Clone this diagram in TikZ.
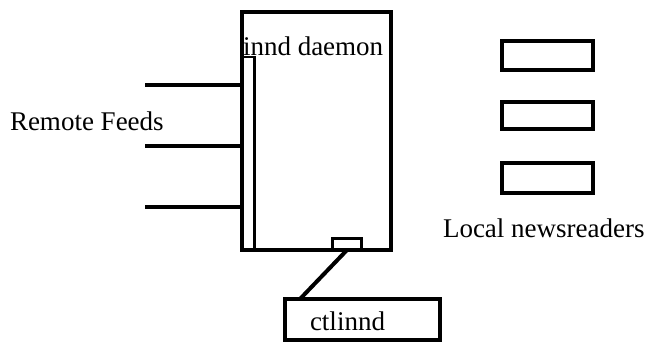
\documentclass[tikz,border=0pt]{standalone}
\usepackage{fontspec}
\setmainfont{Liberation Serif}
\begin{document}
\begin{tikzpicture}[x=1pt,y=-1pt,
  box/.style={draw,line width=4pt,rectangle,inner sep=0pt,outer sep=0pt},
  thinbox/.style={draw,line width=2.8pt,rectangle,inner sep=0pt,outer sep=0pt},
  lbl/.style={inner sep=0pt,outer sep=0pt,anchor=base west,font=\fontsize{27}{30}\selectfont},
  wire/.style={line width=4pt}]
\useasboundingbox (0,0) rectangle (651,346);
% main daemon box
\node[box,minimum width=149pt,minimum height=238pt] (main) at (316.5,131) {};
% inner strip
\node[thinbox,minimum width=12.5pt,minimum height=193pt] (strip) at (248.25,153.5) {};
% small control port
\node[thinbox,minimum width=29pt,minimum height=11.5pt] (port) at (347,244.25) {};
% ctlinnd box
\node[box,minimum width=155pt,minimum height=41pt] (ctl) at (362.5,319.5) {};
% local newsreader boxes
\node[box,minimum width=91pt,minimum height=29pt] (r1) at (547.5,55.5) {};
\node[box,minimum width=91pt,minimum height=27pt] (r2) at (547.5,115) {};
\node[box,minimum width=91pt,minimum height=30pt] (r3) at (547.5,178) {};
% texts
\node[lbl] (tdaemon) at (243,55) {innd daemon};
\node[lbl] (tremote) at (10,130) {Remote Feeds};
\node[lbl] (tlocal) at (443,237) {Local newsreaders};
\node[lbl] (tctl) at (310,330) {ctlinnd};
% remote feed lines
\coordinate (f1) at (145,85);
\coordinate (f2) at (145,146);
\coordinate (f3) at (145,207);
\draw[wire] (f1) -- (main.west |- f1);
\draw[wire] (f2) -- (main.west |- f2);
\draw[wire] (f3) -- (main.west |- f3);
% connector to ctlinnd
\draw[wire] (port.south) -- ([xshift=15pt]ctl.north west);
\end{tikzpicture}
\end{document}
